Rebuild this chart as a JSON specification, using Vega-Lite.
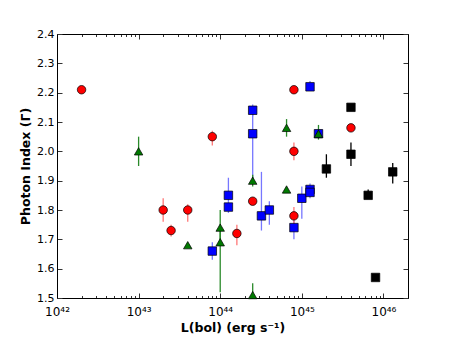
{
  "$schema": "https://vega.github.io/schema/vega-lite/v6.json",
  "width": 351,
  "height": 264,
  "autosize": {"type": "none"},
  "padding": {"left": 57, "top": 34, "right": 46, "bottom": 43},
  "background": "white",
  "config": {
    "font": "DejaVu Sans",
    "view": {"stroke": null},
    "axis": {
      "grid": false,
      "domainColor": "black",
      "domainWidth": 1,
      "tickColor": "#333333",
      "tickWidth": 1,
      "labelFont": "DejaVu Sans",
      "labelFontSize": 11,
      "labelColor": "black",
      "titleFont": "DejaVu Sans",
      "titleFontSize": 12.5,
      "titleFontWeight": "bold",
      "titleColor": "black"
    }
  },
  "data": {
    "values": [
      {"s": "black", "L": 2e45, "G": 1.94, "lo": 1.91, "hi": 1.99},
      {"s": "black", "L": 4e45, "G": 2.15, "lo": 2.14, "hi": 2.16},
      {"s": "black", "L": 4e45, "G": 1.99, "lo": 1.95, "hi": 2.03},
      {"s": "black", "L": 6.5e45, "G": 1.85, "lo": 1.84, "hi": 1.87},
      {"s": "black", "L": 8e45, "G": 1.57},
      {"s": "black", "L": 1.3e46, "G": 1.93, "lo": 1.89, "hi": 1.96},
      {"s": "blue", "L": 8e43, "G": 1.66, "lo": 1.63, "hi": 1.69},
      {"s": "blue", "L": 1.26e44, "G": 1.85, "lo": 1.83, "hi": 1.91},
      {"s": "blue", "L": 1.26e44, "G": 1.81, "lo": 1.79, "hi": 1.83},
      {"s": "blue", "L": 2.5e44, "G": 2.14, "lo": 2.12, "hi": 2.16},
      {"s": "blue", "L": 2.5e44, "G": 2.06, "lo": 1.9, "hi": 2.14},
      {"s": "blue", "L": 3.2e44, "G": 1.78, "lo": 1.73, "hi": 1.93},
      {"s": "blue", "L": 4e44, "G": 1.8, "lo": 1.75, "hi": 1.83},
      {"s": "blue", "L": 8e44, "G": 1.74, "lo": 1.7, "hi": 1.77},
      {"s": "blue", "L": 1e45, "G": 1.84, "lo": 1.77, "hi": 1.88},
      {"s": "blue", "L": 1.26e45, "G": 1.87, "lo": 1.84, "hi": 1.89},
      {"s": "blue", "L": 1.26e45, "G": 1.86},
      {"s": "blue", "L": 1.26e45, "G": 2.22, "lo": 2.21, "hi": 2.24},
      {"s": "blue", "L": 1.6e45, "G": 2.06},
      {"s": "green", "L": 1e43, "G": 2.0, "lo": 1.95, "hi": 2.05},
      {"s": "green", "L": 4e43, "G": 1.68},
      {"s": "green", "L": 1e44, "G": 1.74, "lo": 1.7, "hi": 1.8},
      {"s": "green", "L": 1e44, "G": 1.69, "lo": 1.52, "hi": 1.74},
      {"s": "green", "L": 2.5e44, "G": 1.9, "lo": 1.88, "hi": 1.92},
      {"s": "green", "L": 2.5e44, "G": 1.51, "lo": 1.5, "hi": 1.55},
      {"s": "green", "L": 6.5e44, "G": 2.08, "lo": 2.05, "hi": 2.11},
      {"s": "green", "L": 6.5e44, "G": 1.87},
      {"s": "green", "L": 1.6e45, "G": 2.06, "lo": 2.04, "hi": 2.09},
      {"s": "red", "L": 2e42, "G": 2.21},
      {"s": "red", "L": 2e43, "G": 1.8, "lo": 1.76, "hi": 1.84},
      {"s": "red", "L": 2.5e43, "G": 1.73, "lo": 1.71, "hi": 1.75},
      {"s": "red", "L": 4e43, "G": 1.8, "lo": 1.76, "hi": 1.82},
      {"s": "red", "L": 8e43, "G": 2.05, "lo": 2.02, "hi": 2.07},
      {"s": "red", "L": 1.6e44, "G": 1.72, "lo": 1.68, "hi": 1.75},
      {"s": "red", "L": 2.5e44, "G": 1.83},
      {"s": "red", "L": 8e44, "G": 2.21},
      {"s": "red", "L": 8e44, "G": 2.0, "lo": 1.97, "hi": 2.03},
      {"s": "red", "L": 8e44, "G": 1.78, "lo": 1.75, "hi": 1.81},
      {"s": "red", "L": 4e45, "G": 2.08}
    ]
  },
  "layer": [
    {
      "transform": [{"filter": "isValid(datum.lo)"}],
      "mark": {"type": "rule", "strokeWidth": 1.3},
      "encoding": {
        "x": {
          "field": "L", "type": "quantitative",
          "scale": {"type": "log", "domain": [1e42, 2e46]},
          "axis": {
            "orient": "bottom",
            "title": "L(bol) (erg s⁻¹)",
            "values": [1e42,2e42,3e42,4e42,5e42,6e42,7e42,8e42,9e42,1e43,2e43,3e43,4e43,5e43,6e43,7e43,8e43,9e43,1e44,2e44,3e44,4e44,5e44,6e44,7e44,8e44,9e44,1e45,2e45,3e45,4e45,5e45,6e45,7e45,8e45,9e45,1e46,2e46],
            "labelExpr": "datum.value == 1e42 ? '10⁴²' : datum.value == 1e43 ? '10⁴³' : datum.value == 1e44 ? '10⁴⁴' : datum.value == 1e45 ? '10⁴⁵' : datum.value == 1e46 ? '10⁴⁶' : ''",
            "tickSize": {"condition": {"test": "indexof([1e42,1e43,1e44,1e45,1e46], datum.value) >= 0", "value": -5}, "value": -2.5},
            "labelPadding": 13,
            "labelFontSize": 12,
            "labelFlush": false,
            "labelOverlap": false,
            "titlePadding": 2
          }
        },
        "y": {
          "field": "lo", "type": "quantitative",
          "scale": {"domain": [1.5, 2.4], "zero": false},
          "axis": {
            "orient": "left",
            "title": "Photon Index (Γ)",
            "values": [1.5,1.6,1.7,1.8,1.9,2.0,2.1,2.2,2.3,2.4],
            "format": ".1f",
            "tickSize": -5,
            "labelPadding": 8,
            "labelFlush": false,
            "labelOverlap": false,
            "titlePadding": 4
          }
        },
        "y2": {"field": "hi"},
        "color": {
          "field": "s", "type": "nominal",
          "scale": {"domain": ["black", "blue", "green", "red"], "range": ["#000000", "#7777ff", "#2a8a2a", "#ff7777"]},
          "legend": null
        }
      }
    },
    {
      "mark": {"type": "point", "filled": true, "stroke": "black", "strokeWidth": 0.7, "opacity": 1},
      "encoding": {
        "x": {
          "field": "L", "type": "quantitative",
          "scale": {"type": "log", "domain": [1e42, 2e46]},
          "axis": {
            "orient": "top",
            "title": null,
            "labels": false,
            "values": [1e42,2e42,3e42,4e42,5e42,6e42,7e42,8e42,9e42,1e43,2e43,3e43,4e43,5e43,6e43,7e43,8e43,9e43,1e44,2e44,3e44,4e44,5e44,6e44,7e44,8e44,9e44,1e45,2e45,3e45,4e45,5e45,6e45,7e45,8e45,9e45,1e46,2e46],
            "tickSize": {"condition": {"test": "indexof([1e42,1e43,1e44,1e45,1e46], datum.value) >= 0", "value": -5}, "value": -2.5}
          }
        },
        "y": {
          "field": "G", "type": "quantitative",
          "scale": {"domain": [1.5, 2.4], "zero": false},
          "axis": {
            "orient": "right",
            "title": null,
            "labels": false,
            "values": [1.5,1.6,1.7,1.8,1.9,2.0,2.1,2.2,2.3,2.4],
            "tickSize": -5
          }
        },
        "color": {
          "field": "s", "type": "nominal",
          "scale": {"domain": ["black", "blue", "green", "red"], "range": ["#000000", "#0000ff", "#007a00", "#ff0000"]},
          "legend": null
        },
        "shape": {
          "field": "s", "type": "nominal",
          "scale": {"domain": ["black", "blue", "green", "red"], "range": ["square", "square", "triangle-up", "circle"]},
          "legend": null
        },
        "size": {
          "field": "s", "type": "nominal",
          "scale": {"domain": ["black", "blue", "green", "red"], "range": [72, 72, 60, 58]},
          "legend": null
        }
      }
    }
  ],
  "resolve": {"axis": {"x": "independent", "y": "independent"}, "scale": {"color": "independent"}}
}
